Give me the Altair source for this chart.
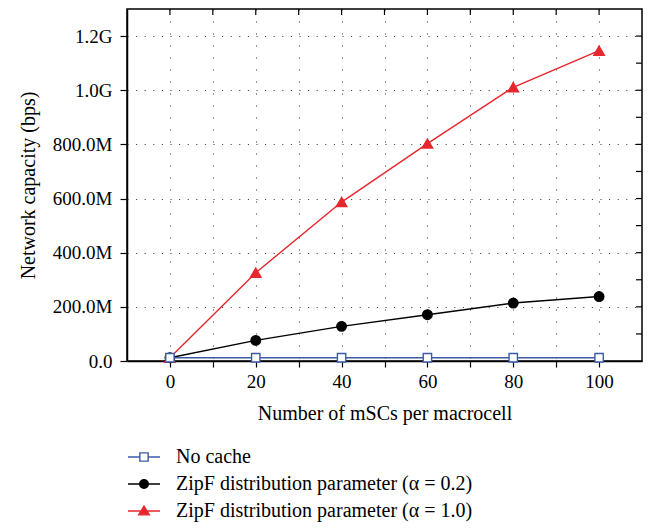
import altair as alt
import pandas as pd

x_vals = [0, 20, 40, 60, 80, 100]
no_cache = [12e6, 12e6, 12e6, 12e6, 12e6, 12e6]
zipf_02 = [12e6, 76e6, 128e6, 171e6, 214e6, 238e6]
zipf_10 = [12e6, 326e6, 587e6, 803e6, 1011e6, 1146e6]

series_names = [
    "No cache",
    "ZipF distribution parameter (α = 0.2)",
    "ZipF distribution parameter (α = 1.0)",
]
stroke_colors = ["#3b5ba9", "#000000", "#e8262d"]
fill_colors = ["#ffffff", "#000000", "#e8262d"]

x_ticks = [0, 10, 20, 30, 40, 50, 60, 70, 80, 90, 100]
y_ticks = [i * 1e8 for i in range(0, 13)]

rows = []
for name, vals in zip(series_names, [no_cache, zipf_02, zipf_10]):
    for xv, yv in zip(x_vals, vals):
        rows.append({"series": name, "x": xv, "y": yv})
df = pd.DataFrame(rows)

W, H = 515, 352
FONT = "Liberation Serif"

xscale = alt.Scale(domain=[-10, 110], nice=False, zero=False)
yscale = alt.Scale(domain=[0, 1.3e9], nice=False)

xaxis = alt.Axis(
    values=x_ticks,
    labelExpr="datum.value % 20 == 0 ? '' + datum.value : ''",
    title="Number of mSCs per macrocell",
    grid=True,
    gridDash=[1, 11],
    gridColor="#333333",
    gridWidth=1,
    tickSize=6,
    labelPadding=5,
    titlePadding=12,
)
yaxis = alt.Axis(
    values=y_ticks,
    labelExpr=(
        "datum.value % 200000000 != 0 ? '' : datum.value == 0 ? '0.0' : "
        "datum.value >= 1000000000 ? format(datum.value/1000000000, '.1f') + 'G' : "
        "format(datum.value/1000000, '.1f') + 'M'"
    ),
    title="Network capacity (bps)",
    grid=True,
    gridDash=[1, 7.6],
    gridColor="#333333",
    gridWidth=1,
    tickSize=7,
    labelPadding=8,
    titlePadding=14,
)

base = alt.Chart(df)


def series_layer(name, color, shape, size, fill):
    d = base.transform_filter(alt.datum.series == name)
    line = d.mark_line(color=color, strokeWidth=1.4).encode(
        x=alt.X("x:Q", scale=xscale, axis=xaxis),
        y=alt.Y("y:Q", scale=yscale, axis=yaxis),
    )
    pts = d.mark_point(
        shape=shape, size=size, filled=True, fill=fill, stroke=color,
        strokeWidth=1.4, opacity=1,
    ).encode(x=alt.X("x:Q", scale=xscale), y=alt.Y("y:Q", scale=yscale))
    return line + pts


red = series_layer(series_names[2], stroke_colors[2], "triangle-up", 110, stroke_colors[2])
black = series_layer(series_names[1], stroke_colors[1], "circle", 90, "#000000")
blue = series_layer(series_names[0], stroke_colors[0], "square", 70, "#ffffff")

# inward ticks on top and right edges
top_ticks = alt.Chart(pd.DataFrame({"t": x_ticks})).mark_rule(
    color="black", strokeWidth=1.2
).encode(x=alt.X("t:Q", scale=xscale), y=alt.value(0), y2=alt.value(6))
right_ticks = alt.Chart(pd.DataFrame({"t": y_ticks[1:]})).mark_rule(
    color="black", strokeWidth=1.2
).encode(y=alt.Y("t:Q", scale=yscale), x=alt.value(W - 6), x2=alt.value(W))

legend_paths = [
    "M-1,0H-0.26M0.26,0H1M-0.26,-0.26H0.26V0.26H-0.26Z",
    "M-1,0H1M-0.27,0A0.27,0.27 0 1,0 0.27,0A0.27,0.27 0 1,0 -0.27,0Z",
    "M-1,0H1M-0.33,0.24L0.33,0.24L0,-0.3Z",
]
leg = alt.Legend(
    title=None,
    orient="none",
    legendX=0,
    legendY=431,
    direction="vertical",
    labelFont=FONT,
    labelFontSize=20,
    labelColor="black",
    symbolSize=1024,
    symbolStrokeWidth=1.4,
    labelOffset=15,
    rowPadding=0,
    labelLimit=500,
)
legend_layer = base.transform_filter("false").mark_point(size=1024, opacity=1, filled=True).encode(
    x=alt.X("x:Q", scale=xscale),
    y=alt.Y("y:Q", scale=yscale),
    fill=alt.Fill("series:N", scale=alt.Scale(domain=series_names, range=fill_colors), legend=leg),
    stroke=alt.Stroke("series:N", scale=alt.Scale(domain=series_names, range=stroke_colors), legend=leg),
    shape=alt.Shape("series:N", scale=alt.Scale(domain=series_names, range=legend_paths), legend=leg),
)

chart = alt.layer(red, black, blue, top_ticks, right_ticks, legend_layer).properties(
    width=W, height=H, padding={"left": 10, "top": 0, "right": 5, "bottom": 5}
).configure(font=FONT).configure_view(
    stroke="black", strokeWidth=1.5
).configure_axis(
    labelFont=FONT, titleFont=FONT, labelFontSize=19, titleFontSize=20,
    labelColor="black", titleColor="black", titleFontWeight="normal",
    domainColor="black", domainWidth=1.5, tickColor="black", tickWidth=1.2,
)

chart.save("out.html", embed_options={"renderer": "svg", "actions": False})
